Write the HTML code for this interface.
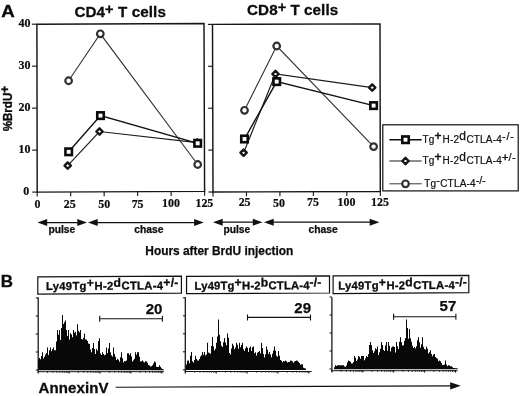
<!DOCTYPE html>
<html><head><meta charset="utf-8"><title>Figure</title>
<style>
html,body{margin:0;padding:0;background:#fff;}
body{width:520px;height:396px;overflow:hidden;font-family:"Liberation Sans", sans-serif;}
svg{display:block;will-change:transform;}
</style></head>
<body>
<svg width="520" height="396" viewBox="0 0 520 396">
<rect width="520" height="396" fill="#fff"/>
<path d="M36.9 24.2L204.0 23.6L204.6 191.4L37.2 192.1Z" fill="none" stroke="#161616" stroke-width="1.45"/>
<path d="M37.20 192.10V196.50" stroke="#1a1a1a" stroke-width="1.15"/>
<path d="M70.68 191.96V196.36" stroke="#1a1a1a" stroke-width="1.15"/>
<path d="M104.16 191.82V196.22" stroke="#1a1a1a" stroke-width="1.15"/>
<path d="M137.64 191.68V196.08" stroke="#1a1a1a" stroke-width="1.15"/>
<path d="M171.12 191.54V195.94" stroke="#1a1a1a" stroke-width="1.15"/>
<path d="M204.60 191.40V195.80" stroke="#1a1a1a" stroke-width="1.15"/>
<path d="M32.20 192.10H37.20" stroke="#1a1a1a" stroke-width="1.15"/>
<path d="M32.12 150.12H37.12" stroke="#1a1a1a" stroke-width="1.15"/>
<path d="M32.05 108.15H37.05" stroke="#1a1a1a" stroke-width="1.15"/>
<path d="M31.98 66.17H36.98" stroke="#1a1a1a" stroke-width="1.15"/>
<path d="M31.90 24.20H36.90" stroke="#1a1a1a" stroke-width="1.15"/>
<path d="M212.5 24.4L380.0 23.9L380.3 191.5L213.0 192.0Z" fill="none" stroke="#161616" stroke-width="1.45"/>
<path d="M213.00 192.00V196.40" stroke="#1a1a1a" stroke-width="1.15"/>
<path d="M246.46 191.90V196.30" stroke="#1a1a1a" stroke-width="1.15"/>
<path d="M279.92 191.80V196.20" stroke="#1a1a1a" stroke-width="1.15"/>
<path d="M313.38 191.70V196.10" stroke="#1a1a1a" stroke-width="1.15"/>
<path d="M346.84 191.60V196.00" stroke="#1a1a1a" stroke-width="1.15"/>
<path d="M380.30 191.50V195.90" stroke="#1a1a1a" stroke-width="1.15"/>
<path d="M208.40 192.00H213.00" stroke="#1a1a1a" stroke-width="1.15"/>
<path d="M208.28 150.10H212.88" stroke="#1a1a1a" stroke-width="1.15"/>
<path d="M208.15 108.20H212.75" stroke="#1a1a1a" stroke-width="1.15"/>
<path d="M208.03 66.30H212.62" stroke="#1a1a1a" stroke-width="1.15"/>
<path d="M207.90 24.40H212.50" stroke="#1a1a1a" stroke-width="1.15"/>
<text x="29.3" y="195.40" font-family='"Liberation Serif", serif' font-weight="bold" font-size="12" text-anchor="end" fill="#0c0c0c" stroke="#0c0c0c" stroke-width="0.2">0</text>
<text x="30.4" y="153.40" font-family='"Liberation Serif", serif' font-weight="bold" font-size="12" text-anchor="end" fill="#0c0c0c" stroke="#0c0c0c" stroke-width="0.2">10</text>
<text x="30.4" y="111.40" font-family='"Liberation Serif", serif' font-weight="bold" font-size="12" text-anchor="end" fill="#0c0c0c" stroke="#0c0c0c" stroke-width="0.2">20</text>
<text x="30.4" y="69.40" font-family='"Liberation Serif", serif' font-weight="bold" font-size="12" text-anchor="end" fill="#0c0c0c" stroke="#0c0c0c" stroke-width="0.2">30</text>
<text x="30.4" y="27.40" font-family='"Liberation Serif", serif' font-weight="bold" font-size="12" text-anchor="end" fill="#0c0c0c" stroke="#0c0c0c" stroke-width="0.2">40</text>
<text x="37.40" y="207.8" font-family='"Liberation Serif", serif' font-weight="bold" font-size="11.9" text-anchor="middle" fill="#0c0c0c" stroke="#0c0c0c" stroke-width="0.2">0</text>
<text x="69.80" y="207.7" font-family='"Liberation Serif", serif' font-weight="bold" font-size="11.9" text-anchor="middle" fill="#0c0c0c" stroke="#0c0c0c" stroke-width="0.2">25</text>
<text x="104.20" y="208.0" font-family='"Liberation Serif", serif' font-weight="bold" font-size="11.9" text-anchor="middle" fill="#0c0c0c" stroke="#0c0c0c" stroke-width="0.2">50</text>
<text x="137.60" y="207.5" font-family='"Liberation Serif", serif' font-weight="bold" font-size="11.9" text-anchor="middle" fill="#0c0c0c" stroke="#0c0c0c" stroke-width="0.2">75</text>
<text x="171.00" y="206.9" font-family='"Liberation Serif", serif' font-weight="bold" font-size="11.9" text-anchor="middle" fill="#0c0c0c" stroke="#0c0c0c" stroke-width="0.2">100</text>
<text x="204.40" y="207.3" font-family='"Liberation Serif", serif' font-weight="bold" font-size="11.9" text-anchor="middle" fill="#0c0c0c" stroke="#0c0c0c" stroke-width="0.2">125</text>
<text x="244.58" y="205.80" font-family='"Liberation Serif", serif' font-weight="bold" font-size="11.9" text-anchor="middle" fill="#0c0c0c" stroke="#0c0c0c" stroke-width="0.2">25</text>
<text x="279.06" y="206.80" font-family='"Liberation Serif", serif' font-weight="bold" font-size="11.9" text-anchor="middle" fill="#0c0c0c" stroke="#0c0c0c" stroke-width="0.2">50</text>
<text x="313.04" y="206.00" font-family='"Liberation Serif", serif' font-weight="bold" font-size="11.9" text-anchor="middle" fill="#0c0c0c" stroke="#0c0c0c" stroke-width="0.2">75</text>
<text x="346.52" y="205.80" font-family='"Liberation Serif", serif' font-weight="bold" font-size="11.9" text-anchor="middle" fill="#0c0c0c" stroke="#0c0c0c" stroke-width="0.2">100</text>
<text x="380.00" y="205.80" font-family='"Liberation Serif", serif' font-weight="bold" font-size="11.9" text-anchor="middle" fill="#0c0c0c" stroke="#0c0c0c" stroke-width="0.2">125</text>
<path d="M68.60 80.75 L100.30 33.80 L197.70 164.50" fill="none" stroke="#333" stroke-width="1.1"/>
<circle cx="68.60" cy="80.75" r="3.3" fill="#fff" stroke="#303030" stroke-width="2.2"/>
<circle cx="100.30" cy="33.80" r="3.3" fill="#fff" stroke="#303030" stroke-width="2.2"/>
<circle cx="197.70" cy="164.50" r="3.3" fill="#fff" stroke="#303030" stroke-width="2.2"/>
<path d="M67.70 165.60 L99.50 131.50 L197.20 142.60" fill="none" stroke="#1c1c1c" stroke-width="1.15"/>
<path d="M64.55 165.60L67.70 162.45L70.85 165.60L67.70 168.75Z" fill="#fff" stroke="#161616" stroke-width="2.4" stroke-linejoin="round"/>
<path d="M96.35 131.50L99.50 128.35L102.65 131.50L99.50 134.65Z" fill="#fff" stroke="#161616" stroke-width="2.4" stroke-linejoin="round"/>
<path d="M194.05 142.60L197.20 139.45L200.35 142.60L197.20 145.75Z" fill="#fff" stroke="#161616" stroke-width="2.4" stroke-linejoin="round"/>
<path d="M68.70 151.80 L100.50 115.60 L197.70 143.30" fill="none" stroke="#111" stroke-width="1.4"/>
<rect x="65.45" y="148.55" width="6.5" height="6.5" fill="#fff" stroke="#0a0a0a" stroke-width="2.6"/>
<rect x="97.25" y="112.35" width="6.5" height="6.5" fill="#fff" stroke="#0a0a0a" stroke-width="2.6"/>
<rect x="194.45" y="140.05" width="6.5" height="6.5" fill="#fff" stroke="#0a0a0a" stroke-width="2.6"/>
<path d="M244.50 110.30 L276.70 46.00 L373.60 146.60" fill="none" stroke="#333" stroke-width="1.1"/>
<circle cx="244.50" cy="110.30" r="3.3" fill="#fff" stroke="#303030" stroke-width="2.2"/>
<circle cx="276.70" cy="46.00" r="3.3" fill="#fff" stroke="#303030" stroke-width="2.2"/>
<circle cx="373.60" cy="146.60" r="3.3" fill="#fff" stroke="#303030" stroke-width="2.2"/>
<path d="M243.60 152.70 L275.50 74.00 L372.20 87.60" fill="none" stroke="#1c1c1c" stroke-width="1.15"/>
<path d="M240.45 152.70L243.60 149.55L246.75 152.70L243.60 155.85Z" fill="#fff" stroke="#161616" stroke-width="2.4" stroke-linejoin="round"/>
<path d="M272.35 74.00L275.50 70.85L278.65 74.00L275.50 77.15Z" fill="#fff" stroke="#161616" stroke-width="2.4" stroke-linejoin="round"/>
<path d="M369.05 87.60L372.20 84.45L375.35 87.60L372.20 90.75Z" fill="#fff" stroke="#161616" stroke-width="2.4" stroke-linejoin="round"/>
<path d="M244.50 139.00 L276.70 81.60 L373.60 105.60" fill="none" stroke="#111" stroke-width="1.4"/>
<rect x="241.25" y="135.75" width="6.5" height="6.5" fill="#fff" stroke="#0a0a0a" stroke-width="2.6"/>
<rect x="273.45" y="78.35" width="6.5" height="6.5" fill="#fff" stroke="#0a0a0a" stroke-width="2.6"/>
<rect x="370.35" y="102.35" width="6.5" height="6.5" fill="#fff" stroke="#0a0a0a" stroke-width="2.6"/>
<text transform="translate(1.3,16.8) scale(1.1,1)" font-family='"Liberation Sans", sans-serif' font-weight="bold" font-size="17" fill="#0c0c0c" stroke="#0c0c0c" stroke-width="0.35">A</text>
<text x="74.4" y="16.7" font-family='"Liberation Sans", sans-serif' font-weight="bold" font-size="15.2" letter-spacing="0.1" fill="#0c0c0c" stroke="#0c0c0c" stroke-width="0.3">CD4<tspan dy="-2.4" font-size="14.5">+</tspan><tspan dy="2.4"> T cells</tspan></text>
<text x="247.1" y="14.8" font-family='"Liberation Sans", sans-serif' font-weight="bold" font-size="15.2" letter-spacing="0.06" fill="#0c0c0c" stroke="#0c0c0c" stroke-width="0.3">CD8<tspan dy="-2.4" font-size="14.5">+</tspan><tspan dy="2.4"> T cells</tspan></text>
<text transform="translate(12.4,131.3) rotate(-90) scale(1,1.13)" font-family='"Liberation Sans", sans-serif' font-weight="bold" font-size="11.6" fill="#0c0c0c" stroke="#0c0c0c" stroke-width="0.3">%BrdU<tspan dy="-2.8" font-size="11.5">+</tspan></text>
<path d="M46.20 222.5H78.30" stroke="#111" stroke-width="1.25"/>
<path d="M37.50 222.5L47.20 219.0L47.20 226.0Z" fill="#111"/>
<path d="M87.00 222.5L77.30 219.0L77.30 226.0Z" fill="#111"/>
<path d="M96.70 222.5H195.10" stroke="#111" stroke-width="1.25"/>
<path d="M88.00 222.5L97.70 219.0L97.70 226.0Z" fill="#111"/>
<path d="M203.80 222.5L194.10 219.0L194.10 226.0Z" fill="#111"/>
<path d="M221.70 222.2H253.80" stroke="#111" stroke-width="1.25"/>
<path d="M213.00 222.2L222.70 218.7L222.70 225.7Z" fill="#111"/>
<path d="M262.50 222.2L252.80 218.7L252.80 225.7Z" fill="#111"/>
<path d="M272.70 222.2H370.70" stroke="#111" stroke-width="1.25"/>
<path d="M264.00 222.2L273.70 218.7L273.70 225.7Z" fill="#111"/>
<path d="M379.40 222.2L369.70 218.7L369.70 225.7Z" fill="#111"/>
<text x="48.4" y="233.1" font-family='"Liberation Sans", sans-serif' font-weight="bold" font-size="10.3" text-anchor="start" fill="#0c0c0c" stroke="#0c0c0c" stroke-width="0.25">pulse</text>
<text x="134.2" y="233.1" font-family='"Liberation Sans", sans-serif' font-weight="bold" font-size="10.3" text-anchor="start" fill="#0c0c0c" stroke="#0c0c0c" stroke-width="0.25">chase</text>
<text x="223.4" y="232.9" font-family='"Liberation Sans", sans-serif' font-weight="bold" font-size="10.3" text-anchor="start" fill="#0c0c0c" stroke="#0c0c0c" stroke-width="0.25">pulse</text>
<text x="308.6" y="232.9" font-family='"Liberation Sans", sans-serif' font-weight="bold" font-size="10.3" text-anchor="start" fill="#0c0c0c" stroke="#0c0c0c" stroke-width="0.25">chase</text>
<text x="145.3" y="254.7" font-family='"Liberation Sans", sans-serif' font-weight="bold" font-size="11.9" text-anchor="start" fill="#0c0c0c" stroke="#0c0c0c" stroke-width="0.25">Hours after BrdU injection</text>
<rect x="382.8" y="124.8" width="135.4" height="66.1" fill="#fff" stroke="#111" stroke-width="1.2"/>
<path d="M389.4 139.7H421.7" stroke="#111" stroke-width="1.4"/>
<rect x="402.25" y="136.45" width="6.5" height="6.5" fill="#fff" stroke="#0a0a0a" stroke-width="2.6"/>
<text x="422.5" y="143.0" font-family='"Liberation Sans", sans-serif' font-size="10" letter-spacing="0.16" fill="#111" stroke="#111" stroke-width="0.22">Tg<tspan dy="-3.4" font-size="12" stroke-width="0.5" letter-spacing="0.9">+</tspan><tspan dy="3.4" font-size="0.1"> </tspan>H-2<tspan dy="-3.0" font-size="12" stroke-width="0.25" letter-spacing="0.4">d</tspan><tspan dy="3.0" font-size="0.1"> </tspan>CTLA-4<tspan dy="-3.4" font-size="10.8" stroke-width="0.22" letter-spacing="0.9">-/-</tspan><tspan dy="3.4" font-size="0.1"> </tspan></text>
<path d="M389.4 161.0H421.7" stroke="#1c1c1c" stroke-width="1.15"/>
<path d="M402.35 161.00L405.50 157.85L408.65 161.00L405.50 164.15Z" fill="#fff" stroke="#161616" stroke-width="2.4" stroke-linejoin="round"/>
<text x="422.5" y="164.4" font-family='"Liberation Sans", sans-serif' font-size="10" letter-spacing="0.16" fill="#111" stroke="#111" stroke-width="0.22">Tg<tspan dy="-3.4" font-size="12" stroke-width="0.5" letter-spacing="0.9">+</tspan><tspan dy="3.4" font-size="0.1"> </tspan>H-2<tspan dy="-3.0" font-size="12" stroke-width="0.25" letter-spacing="0.4">d</tspan><tspan dy="3.0" font-size="0.1"> </tspan>CTLA-4<tspan dy="-3.4" font-size="11" stroke-width="0.4" letter-spacing="0">+</tspan><tspan dy="3.4" font-size="0.1"> </tspan><tspan dy="-3.4" font-size="10.8" stroke-width="0.22" letter-spacing="0.5">/-</tspan><tspan dy="3.4" font-size="0.1"> </tspan></text>
<path d="M389.4 183.8H421.7" stroke="#3a3a3a" stroke-width="1.0"/>
<circle cx="405.50" cy="183.80" r="3.3" fill="#fff" stroke="#303030" stroke-width="2.2"/>
<text x="424.2" y="187.0" font-family='"Liberation Sans", sans-serif' font-size="10" letter-spacing="0.18" fill="#111" stroke="#111" stroke-width="0.22">Tg<tspan dy="-3.4" font-size="10.8" font-weight="normal">-</tspan><tspan dy="3.4" font-size="0.1"> </tspan>CTLA-4<tspan dy="-3.4" font-size="10.8" stroke-width="0.22" letter-spacing="-0.2">-/-</tspan><tspan dy="3.4" font-size="0.1"> </tspan></text>
<text transform="translate(0.8,286.9) scale(1.06,1)" font-family='"Liberation Sans", sans-serif' font-weight="bold" font-size="16" fill="#0c0c0c" stroke="#0c0c0c" stroke-width="0.3">B</text>
<path d="M37.8 276.9L181.4 276.2L181.4 293.2L37.8 294.2Z" fill="#fff" stroke="#111" stroke-width="1.2"/>
<path d="M186.55 276.4L329.5 275.9L329.5 293.0L186.55 293.6Z" fill="#fff" stroke="#111" stroke-width="1.2"/>
<path d="M333.1 275.8L468.8 275.4L468.8 292.7L333.1 293.6Z" fill="#fff" stroke="#111" stroke-width="1.2"/>
<text transform="translate(46.0,290.0) rotate(-0.3)" font-family='"Liberation Sans", sans-serif' font-weight="bold" font-size="11.3" letter-spacing="0.27" fill="#0c0c0c" stroke="#0c0c0c" stroke-width="0.3">Ly49Tg<tspan dy="-2.9" font-size="12.2" font-weight="bold">+</tspan><tspan dy="2.9" font-size="0.1"> </tspan>H-2<tspan dy="-2.9" font-size="12.2" font-weight="bold">d</tspan><tspan dy="2.9" font-size="0.1"> </tspan>CTLA-4<tspan dy="-2.9" font-size="12.2" font-weight="bold">+/-</tspan><tspan dy="2.9" font-size="0.1"> </tspan></text>
<text transform="translate(194.6,289.7) rotate(-0.3)" font-family='"Liberation Sans", sans-serif' font-weight="bold" font-size="11.3" letter-spacing="0.15" fill="#0c0c0c" stroke="#0c0c0c" stroke-width="0.3">Ly49Tg<tspan dy="-2.9" font-size="12.2" font-weight="bold">+</tspan><tspan dy="2.9" font-size="0.1"> </tspan>H-2<tspan dy="-2.9" font-size="12.2" font-weight="bold">b</tspan><tspan dy="2.9" font-size="0.1"> </tspan>CTLA-4<tspan dy="-2.9" font-size="12.2" font-weight="bold">-/-</tspan><tspan dy="2.9" font-size="0.1"> </tspan></text>
<text transform="translate(338.2,289.5) rotate(-0.3)" font-family='"Liberation Sans", sans-serif' font-weight="bold" font-size="11.3" letter-spacing="0.24" fill="#0c0c0c" stroke="#0c0c0c" stroke-width="0.3">Ly49Tg<tspan dy="-2.9" font-size="12.2" font-weight="bold">+</tspan><tspan dy="2.9" font-size="0.1"> </tspan>H-2<tspan dy="-2.9" font-size="12.2" font-weight="bold">d</tspan><tspan dy="2.9" font-size="0.1"> </tspan>CTLA-4<tspan dy="-2.9" font-size="12.2" font-weight="bold">-/-</tspan><tspan dy="2.9" font-size="0.1"> </tspan></text>
<path d="M38.2 297.2V372.4" fill="none" stroke="#111" stroke-width="1.25"/>
<path d="M38.2 371.7H164" fill="none" stroke="#111" stroke-width="1.0"/>
<path d="M35.800000000000004 370.00H38.2" stroke="#111" stroke-width="1"/>
<path d="M35.800000000000004 352.00H38.2" stroke="#111" stroke-width="1"/>
<path d="M35.800000000000004 334.00H38.2" stroke="#111" stroke-width="1"/>
<path d="M35.800000000000004 316.00H38.2" stroke="#111" stroke-width="1"/>
<path d="M35.800000000000004 298.00H38.2" stroke="#111" stroke-width="1"/>
<path d="M38.20 371.2V373.6" stroke="#111" stroke-width="1.1"/>
<path d="M69.10 371.2V373.6" stroke="#111" stroke-width="1.1"/>
<path d="M100.00 371.2V373.6" stroke="#111" stroke-width="1.1"/>
<path d="M130.90 371.2V373.6" stroke="#111" stroke-width="1.1"/>
<path d="M161.80 371.2V373.6" stroke="#111" stroke-width="1.1"/>
<path d="M47.50 371.2V372.9" stroke="#1a1a1a" stroke-width="0.85"/>
<path d="M52.94 371.2V372.9" stroke="#1a1a1a" stroke-width="0.85"/>
<path d="M56.80 371.2V372.9" stroke="#1a1a1a" stroke-width="0.85"/>
<path d="M59.80 371.2V372.9" stroke="#1a1a1a" stroke-width="0.85"/>
<path d="M62.24 371.2V372.9" stroke="#1a1a1a" stroke-width="0.85"/>
<path d="M64.31 371.2V372.9" stroke="#1a1a1a" stroke-width="0.85"/>
<path d="M66.11 371.2V372.9" stroke="#1a1a1a" stroke-width="0.85"/>
<path d="M67.69 371.2V372.9" stroke="#1a1a1a" stroke-width="0.85"/>
<path d="M78.40 371.2V372.9" stroke="#1a1a1a" stroke-width="0.85"/>
<path d="M83.84 371.2V372.9" stroke="#1a1a1a" stroke-width="0.85"/>
<path d="M87.70 371.2V372.9" stroke="#1a1a1a" stroke-width="0.85"/>
<path d="M90.70 371.2V372.9" stroke="#1a1a1a" stroke-width="0.85"/>
<path d="M93.14 371.2V372.9" stroke="#1a1a1a" stroke-width="0.85"/>
<path d="M95.21 371.2V372.9" stroke="#1a1a1a" stroke-width="0.85"/>
<path d="M97.01 371.2V372.9" stroke="#1a1a1a" stroke-width="0.85"/>
<path d="M98.59 371.2V372.9" stroke="#1a1a1a" stroke-width="0.85"/>
<path d="M109.30 371.2V372.9" stroke="#1a1a1a" stroke-width="0.85"/>
<path d="M114.74 371.2V372.9" stroke="#1a1a1a" stroke-width="0.85"/>
<path d="M118.60 371.2V372.9" stroke="#1a1a1a" stroke-width="0.85"/>
<path d="M121.60 371.2V372.9" stroke="#1a1a1a" stroke-width="0.85"/>
<path d="M124.04 371.2V372.9" stroke="#1a1a1a" stroke-width="0.85"/>
<path d="M126.11 371.2V372.9" stroke="#1a1a1a" stroke-width="0.85"/>
<path d="M127.91 371.2V372.9" stroke="#1a1a1a" stroke-width="0.85"/>
<path d="M129.49 371.2V372.9" stroke="#1a1a1a" stroke-width="0.85"/>
<path d="M140.20 371.2V372.9" stroke="#1a1a1a" stroke-width="0.85"/>
<path d="M145.64 371.2V372.9" stroke="#1a1a1a" stroke-width="0.85"/>
<path d="M149.50 371.2V372.9" stroke="#1a1a1a" stroke-width="0.85"/>
<path d="M152.50 371.2V372.9" stroke="#1a1a1a" stroke-width="0.85"/>
<path d="M154.94 371.2V372.9" stroke="#1a1a1a" stroke-width="0.85"/>
<path d="M157.01 371.2V372.9" stroke="#1a1a1a" stroke-width="0.85"/>
<path d="M158.81 371.2V372.9" stroke="#1a1a1a" stroke-width="0.85"/>
<path d="M160.39 371.2V372.9" stroke="#1a1a1a" stroke-width="0.85"/>
<path d="M38.0 370.2V359.47h1V370.2ZM39.0 370.2V358.00h1V370.2ZM40.0 370.2V359.16h1V370.2ZM41.0 370.2V355.95h1V370.2ZM42.0 370.2V352.30h1V370.2ZM43.0 370.2V358.51h1V370.2ZM44.0 370.2V356.74h1V370.2ZM45.0 370.2V354.48h1V370.2ZM46.0 370.2V352.91h1V370.2ZM47.0 370.2V347.60h1V370.2ZM48.0 370.2V354.97h1V370.2ZM49.0 370.2V350.25h1V370.2ZM50.0 370.2V347.60h1V370.2ZM51.0 370.2V351.17h1V370.2ZM52.0 370.2V349.33h1V370.2ZM53.0 370.2V347.60h1V370.2ZM54.0 370.2V350.16h1V370.2ZM55.0 370.2V350.36h1V370.2ZM56.0 370.2V341.55h1V370.2ZM57.0 370.2V330.00h1V370.2ZM58.0 370.2V334.84h1V370.2ZM59.0 370.2V330.00h1V370.2ZM60.0 370.2V339.88h1V370.2ZM61.0 370.2V327.94h1V370.2ZM62.0 370.2V315.00h1V370.2ZM63.0 370.2V324.00h1V370.2ZM64.0 370.2V322.23h1V370.2ZM65.0 370.2V320.50h1V370.2ZM66.0 370.2V329.88h1V370.2ZM67.0 370.2V336.11h1V370.2ZM68.0 370.2V330.00h1V370.2ZM69.0 370.2V339.59h1V370.2ZM70.0 370.2V333.19h1V370.2ZM71.0 370.2V334.49h1V370.2ZM72.0 370.2V337.21h1V370.2ZM73.0 370.2V330.00h1V370.2ZM74.0 370.2V332.80h1V370.2ZM75.0 370.2V331.68h1V370.2ZM76.0 370.2V335.42h1V370.2ZM77.0 370.2V324.30h1V370.2ZM78.0 370.2V330.72h1V370.2ZM79.0 370.2V332.27h1V370.2ZM80.0 370.2V330.00h1V370.2ZM81.0 370.2V339.10h1V370.2ZM82.0 370.2V339.50h1V370.2ZM83.0 370.2V337.78h1V370.2ZM84.0 370.2V333.60h1V370.2ZM85.0 370.2V339.60h1V370.2ZM86.0 370.2V339.60h1V370.2ZM87.0 370.2V340.89h1V370.2ZM88.0 370.2V343.42h1V370.2ZM89.0 370.2V344.05h1V370.2ZM90.0 370.2V349.38h1V370.2ZM91.0 370.2V352.18h1V370.2ZM92.0 370.2V347.93h1V370.2ZM93.0 370.2V343.00h1V370.2ZM94.0 370.2V348.92h1V370.2ZM95.0 370.2V353.97h1V370.2ZM96.0 370.2V349.09h1V370.2ZM97.0 370.2V350.56h1V370.2ZM98.0 370.2V340.98h1V370.2ZM99.0 370.2V338.30h1V370.2ZM100.0 370.2V353.42h1V370.2ZM101.0 370.2V355.05h1V370.2ZM102.0 370.2V352.30h1V370.2ZM103.0 370.2V353.94h1V370.2ZM104.0 370.2V355.14h1V370.2ZM105.0 370.2V354.87h1V370.2ZM106.0 370.2V347.60h1V370.2ZM107.0 370.2V352.95h1V370.2ZM108.0 370.2V348.60h1V370.2ZM109.0 370.2V343.00h1V370.2ZM110.0 370.2V352.22h1V370.2ZM111.0 370.2V355.27h1V370.2ZM112.0 370.2V356.48h1V370.2ZM113.0 370.2V347.60h1V370.2ZM114.0 370.2V353.88h1V370.2ZM115.0 370.2V356.74h1V370.2ZM116.0 370.2V360.07h1V370.2ZM117.0 370.2V358.77h1V370.2ZM118.0 370.2V359.74h1V370.2ZM119.0 370.2V361.70h1V370.2ZM120.0 370.2V357.20h1V370.2ZM121.0 370.2V352.30h1V370.2ZM122.0 370.2V358.32h1V370.2ZM123.0 370.2V362.41h1V370.2ZM124.0 370.2V361.12h1V370.2ZM125.0 370.2V361.31h1V370.2ZM126.0 370.2V360.41h1V370.2ZM127.0 370.2V353.20h1V370.2ZM128.0 370.2V353.20h1V370.2ZM129.0 370.2V354.94h1V370.2ZM130.0 370.2V353.20h1V370.2ZM131.0 370.2V356.53h1V370.2ZM132.0 370.2V361.45h1V370.2ZM133.0 370.2V360.17h1V370.2ZM134.0 370.2V358.77h1V370.2ZM135.0 370.2V352.30h1V370.2ZM136.0 370.2V354.77h1V370.2ZM137.0 370.2V352.30h1V370.2ZM138.0 370.2V352.30h1V370.2ZM139.0 370.2V356.85h1V370.2ZM140.0 370.2V361.48h1V370.2ZM141.0 370.2V361.21h1V370.2ZM142.0 370.2V360.59h1V370.2ZM143.0 370.2V361.83h1V370.2ZM144.0 370.2V362.62h1V370.2ZM145.0 370.2V361.29h1V370.2ZM146.0 370.2V361.51h1V370.2ZM147.0 370.2V362.72h1V370.2ZM148.0 370.2V365.11h1V370.2ZM149.0 370.2V365.50h1V370.2ZM150.0 370.2V366.50h1V370.2ZM151.0 370.2V366.28h1V370.2ZM152.0 370.2V365.14h1V370.2ZM153.0 370.2V363.45h1V370.2ZM154.0 370.2V361.60h1V370.2ZM155.0 370.2V362.32h1V370.2ZM156.0 370.2V366.64h1V370.2ZM157.0 370.2V366.92h1V370.2ZM158.0 370.2V366.90h1V370.2ZM159.0 370.2V365.30h1V370.2ZM160.0 370.2V366.63h1V370.2ZM161.0 370.2V368.29h1V370.2ZM162.0 370.2V368.97h1V370.2ZM163.0 370.2V369.45h1V370.2Z" fill="#080808"/>
<path d="M99.7 318.7H162.4M99.7 315.7V321.7M162.4 315.7V321.7" stroke="#111" stroke-width="1.1" fill="none"/>
<text x="162.4" y="313.7" font-family='"Liberation Sans", sans-serif' font-weight="bold" font-size="15" text-anchor="end" fill="#0c0c0c" stroke="#0c0c0c" stroke-width="0.25">20</text>
<path d="M185.3 297.2V372.2" fill="none" stroke="#111" stroke-width="1.25"/>
<path d="M185.3 371.5H311.5" fill="none" stroke="#111" stroke-width="1.0"/>
<path d="M182.9 369.80H185.3" stroke="#111" stroke-width="1"/>
<path d="M182.9 351.80H185.3" stroke="#111" stroke-width="1"/>
<path d="M182.9 333.80H185.3" stroke="#111" stroke-width="1"/>
<path d="M182.9 315.80H185.3" stroke="#111" stroke-width="1"/>
<path d="M182.9 297.80H185.3" stroke="#111" stroke-width="1"/>
<path d="M185.30 371.0V373.40000000000003" stroke="#111" stroke-width="1.1"/>
<path d="M216.20 371.0V373.40000000000003" stroke="#111" stroke-width="1.1"/>
<path d="M247.10 371.0V373.40000000000003" stroke="#111" stroke-width="1.1"/>
<path d="M278.00 371.0V373.40000000000003" stroke="#111" stroke-width="1.1"/>
<path d="M308.90 371.0V373.40000000000003" stroke="#111" stroke-width="1.1"/>
<path d="M194.60 371.0V372.7" stroke="#1a1a1a" stroke-width="0.85"/>
<path d="M200.04 371.0V372.7" stroke="#1a1a1a" stroke-width="0.85"/>
<path d="M203.90 371.0V372.7" stroke="#1a1a1a" stroke-width="0.85"/>
<path d="M206.90 371.0V372.7" stroke="#1a1a1a" stroke-width="0.85"/>
<path d="M209.34 371.0V372.7" stroke="#1a1a1a" stroke-width="0.85"/>
<path d="M211.41 371.0V372.7" stroke="#1a1a1a" stroke-width="0.85"/>
<path d="M213.21 371.0V372.7" stroke="#1a1a1a" stroke-width="0.85"/>
<path d="M214.79 371.0V372.7" stroke="#1a1a1a" stroke-width="0.85"/>
<path d="M225.50 371.0V372.7" stroke="#1a1a1a" stroke-width="0.85"/>
<path d="M230.94 371.0V372.7" stroke="#1a1a1a" stroke-width="0.85"/>
<path d="M234.80 371.0V372.7" stroke="#1a1a1a" stroke-width="0.85"/>
<path d="M237.80 371.0V372.7" stroke="#1a1a1a" stroke-width="0.85"/>
<path d="M240.24 371.0V372.7" stroke="#1a1a1a" stroke-width="0.85"/>
<path d="M242.31 371.0V372.7" stroke="#1a1a1a" stroke-width="0.85"/>
<path d="M244.11 371.0V372.7" stroke="#1a1a1a" stroke-width="0.85"/>
<path d="M245.69 371.0V372.7" stroke="#1a1a1a" stroke-width="0.85"/>
<path d="M256.40 371.0V372.7" stroke="#1a1a1a" stroke-width="0.85"/>
<path d="M261.84 371.0V372.7" stroke="#1a1a1a" stroke-width="0.85"/>
<path d="M265.70 371.0V372.7" stroke="#1a1a1a" stroke-width="0.85"/>
<path d="M268.70 371.0V372.7" stroke="#1a1a1a" stroke-width="0.85"/>
<path d="M271.14 371.0V372.7" stroke="#1a1a1a" stroke-width="0.85"/>
<path d="M273.21 371.0V372.7" stroke="#1a1a1a" stroke-width="0.85"/>
<path d="M275.01 371.0V372.7" stroke="#1a1a1a" stroke-width="0.85"/>
<path d="M276.59 371.0V372.7" stroke="#1a1a1a" stroke-width="0.85"/>
<path d="M287.30 371.0V372.7" stroke="#1a1a1a" stroke-width="0.85"/>
<path d="M292.74 371.0V372.7" stroke="#1a1a1a" stroke-width="0.85"/>
<path d="M296.60 371.0V372.7" stroke="#1a1a1a" stroke-width="0.85"/>
<path d="M299.60 371.0V372.7" stroke="#1a1a1a" stroke-width="0.85"/>
<path d="M302.04 371.0V372.7" stroke="#1a1a1a" stroke-width="0.85"/>
<path d="M304.11 371.0V372.7" stroke="#1a1a1a" stroke-width="0.85"/>
<path d="M305.91 371.0V372.7" stroke="#1a1a1a" stroke-width="0.85"/>
<path d="M307.49 371.0V372.7" stroke="#1a1a1a" stroke-width="0.85"/>
<path d="M186.0 370.0V364.39h1V370.0ZM187.0 370.0V360.85h1V370.0ZM188.0 370.0V360.50h1V370.0ZM189.0 370.0V363.26h1V370.0ZM190.0 370.0V355.83h1V370.0ZM191.0 370.0V352.10h1V370.0ZM192.0 370.0V361.31h1V370.0ZM193.0 370.0V362.51h1V370.0ZM194.0 370.0V360.04h1V370.0ZM195.0 370.0V355.80h1V370.0ZM196.0 370.0V358.91h1V370.0ZM197.0 370.0V360.40h1V370.0ZM198.0 370.0V360.40h1V370.0ZM199.0 370.0V359.03h1V370.0ZM200.0 370.0V356.46h1V370.0ZM201.0 370.0V355.22h1V370.0ZM202.0 370.0V352.10h1V370.0ZM203.0 370.0V354.87h1V370.0ZM204.0 370.0V352.10h1V370.0ZM205.0 370.0V355.54h1V370.0ZM206.0 370.0V354.50h1V370.0ZM207.0 370.0V342.80h1V370.0ZM208.0 370.0V352.39h1V370.0ZM209.0 370.0V353.08h1V370.0ZM210.0 370.0V353.64h1V370.0ZM211.0 370.0V346.06h1V370.0ZM212.0 370.0V337.10h1V370.0ZM213.0 370.0V346.56h1V370.0ZM214.0 370.0V350.61h1V370.0ZM215.0 370.0V348.75h1V370.0ZM216.0 370.0V342.80h1V370.0ZM217.0 370.0V336.41h1V370.0ZM218.0 370.0V319.40h1V370.0ZM219.0 370.0V334.87h1V370.0ZM220.0 370.0V341.27h1V370.0ZM221.0 370.0V345.76h1V370.0ZM222.0 370.0V347.01h1V370.0ZM223.0 370.0V342.21h1V370.0ZM224.0 370.0V338.10h1V370.0ZM225.0 370.0V342.60h1V370.0ZM226.0 370.0V345.31h1V370.0ZM227.0 370.0V333.40h1V370.0ZM228.0 370.0V337.71h1V370.0ZM229.0 370.0V353.06h1V370.0ZM230.0 370.0V354.40h1V370.0ZM231.0 370.0V348.45h1V370.0ZM232.0 370.0V343.70h1V370.0ZM233.0 370.0V345.85h1V370.0ZM234.0 370.0V349.17h1V370.0ZM235.0 370.0V347.46h1V370.0ZM236.0 370.0V342.80h1V370.0ZM237.0 370.0V344.75h1V370.0ZM238.0 370.0V348.83h1V370.0ZM239.0 370.0V342.80h1V370.0ZM240.0 370.0V347.22h1V370.0ZM241.0 370.0V345.08h1V370.0ZM242.0 370.0V342.80h1V370.0ZM243.0 370.0V349.37h1V370.0ZM244.0 370.0V351.06h1V370.0ZM245.0 370.0V348.30h1V370.0ZM246.0 370.0V346.50h1V370.0ZM247.0 370.0V347.78h1V370.0ZM248.0 370.0V352.12h1V370.0ZM249.0 370.0V347.79h1V370.0ZM250.0 370.0V346.50h1V370.0ZM251.0 370.0V350.98h1V370.0ZM252.0 370.0V347.25h1V370.0ZM253.0 370.0V346.50h1V370.0ZM254.0 370.0V353.37h1V370.0ZM255.0 370.0V352.18h1V370.0ZM256.0 370.0V355.55h1V370.0ZM257.0 370.0V352.87h1V370.0ZM258.0 370.0V351.98h1V370.0ZM259.0 370.0V351.10h1V370.0ZM260.0 370.0V353.38h1V370.0ZM261.0 370.0V342.80h1V370.0ZM262.0 370.0V347.92h1V370.0ZM263.0 370.0V354.04h1V370.0ZM264.0 370.0V357.44h1V370.0ZM265.0 370.0V354.19h1V370.0ZM266.0 370.0V346.50h1V370.0ZM267.0 370.0V349.82h1V370.0ZM268.0 370.0V354.09h1V370.0ZM269.0 370.0V352.10h1V370.0ZM270.0 370.0V354.38h1V370.0ZM271.0 370.0V357.31h1V370.0ZM272.0 370.0V353.81h1V370.0ZM273.0 370.0V350.38h1V370.0ZM274.0 370.0V346.50h1V370.0ZM275.0 370.0V350.84h1V370.0ZM276.0 370.0V355.80h1V370.0ZM277.0 370.0V356.75h1V370.0ZM278.0 370.0V351.10h1V370.0ZM279.0 370.0V355.68h1V370.0ZM280.0 370.0V359.90h1V370.0ZM281.0 370.0V360.69h1V370.0ZM282.0 370.0V362.27h1V370.0ZM283.0 370.0V361.05h1V370.0ZM284.0 370.0V361.47h1V370.0ZM285.0 370.0V360.50h1V370.0ZM286.0 370.0V361.34h1V370.0ZM287.0 370.0V362.62h1V370.0ZM288.0 370.0V361.98h1V370.0ZM289.0 370.0V362.12h1V370.0ZM290.0 370.0V360.50h1V370.0ZM291.0 370.0V360.69h1V370.0ZM292.0 370.0V361.59h1V370.0ZM293.0 370.0V362.78h1V370.0ZM294.0 370.0V361.46h1V370.0ZM295.0 370.0V361.08h1V370.0ZM296.0 370.0V360.50h1V370.0ZM297.0 370.0V360.85h1V370.0ZM298.0 370.0V361.96h1V370.0ZM299.0 370.0V362.92h1V370.0ZM300.0 370.0V364.64h1V370.0ZM301.0 370.0V364.26h1V370.0ZM302.0 370.0V364.20h1V370.0ZM303.0 370.0V367.87h1V370.0ZM304.0 370.0V368.31h1V370.0ZM305.0 370.0V368.55h1V370.0Z" fill="#080808"/>
<path d="M247.5 317.4H310.5M247.5 314.4V320.4M310.5 314.4V320.4" stroke="#111" stroke-width="1.1" fill="none"/>
<text x="311.0" y="313.0" font-family='"Liberation Sans", sans-serif' font-weight="bold" font-size="15" text-anchor="end" fill="#0c0c0c" stroke="#0c0c0c" stroke-width="0.25">29</text>
<path d="M331.9 297.2V371.4" fill="none" stroke="#111" stroke-width="1.25"/>
<path d="M331.9 370.7H457.5" fill="none" stroke="#111" stroke-width="1.0"/>
<path d="M329.5 369.00H331.9" stroke="#111" stroke-width="1"/>
<path d="M329.5 351.00H331.9" stroke="#111" stroke-width="1"/>
<path d="M329.5 333.00H331.9" stroke="#111" stroke-width="1"/>
<path d="M329.5 315.00H331.9" stroke="#111" stroke-width="1"/>
<path d="M329.5 297.00H331.9" stroke="#111" stroke-width="1"/>
<path d="M331.90 370.2V372.6" stroke="#111" stroke-width="1.1"/>
<path d="M362.80 370.2V372.6" stroke="#111" stroke-width="1.1"/>
<path d="M393.70 370.2V372.6" stroke="#111" stroke-width="1.1"/>
<path d="M424.60 370.2V372.6" stroke="#111" stroke-width="1.1"/>
<path d="M455.50 370.2V372.6" stroke="#111" stroke-width="1.1"/>
<path d="M341.20 370.2V371.9" stroke="#1a1a1a" stroke-width="0.85"/>
<path d="M346.64 370.2V371.9" stroke="#1a1a1a" stroke-width="0.85"/>
<path d="M350.50 370.2V371.9" stroke="#1a1a1a" stroke-width="0.85"/>
<path d="M353.50 370.2V371.9" stroke="#1a1a1a" stroke-width="0.85"/>
<path d="M355.94 370.2V371.9" stroke="#1a1a1a" stroke-width="0.85"/>
<path d="M358.01 370.2V371.9" stroke="#1a1a1a" stroke-width="0.85"/>
<path d="M359.81 370.2V371.9" stroke="#1a1a1a" stroke-width="0.85"/>
<path d="M361.39 370.2V371.9" stroke="#1a1a1a" stroke-width="0.85"/>
<path d="M372.10 370.2V371.9" stroke="#1a1a1a" stroke-width="0.85"/>
<path d="M377.54 370.2V371.9" stroke="#1a1a1a" stroke-width="0.85"/>
<path d="M381.40 370.2V371.9" stroke="#1a1a1a" stroke-width="0.85"/>
<path d="M384.40 370.2V371.9" stroke="#1a1a1a" stroke-width="0.85"/>
<path d="M386.84 370.2V371.9" stroke="#1a1a1a" stroke-width="0.85"/>
<path d="M388.91 370.2V371.9" stroke="#1a1a1a" stroke-width="0.85"/>
<path d="M390.71 370.2V371.9" stroke="#1a1a1a" stroke-width="0.85"/>
<path d="M392.29 370.2V371.9" stroke="#1a1a1a" stroke-width="0.85"/>
<path d="M403.00 370.2V371.9" stroke="#1a1a1a" stroke-width="0.85"/>
<path d="M408.44 370.2V371.9" stroke="#1a1a1a" stroke-width="0.85"/>
<path d="M412.30 370.2V371.9" stroke="#1a1a1a" stroke-width="0.85"/>
<path d="M415.30 370.2V371.9" stroke="#1a1a1a" stroke-width="0.85"/>
<path d="M417.74 370.2V371.9" stroke="#1a1a1a" stroke-width="0.85"/>
<path d="M419.81 370.2V371.9" stroke="#1a1a1a" stroke-width="0.85"/>
<path d="M421.61 370.2V371.9" stroke="#1a1a1a" stroke-width="0.85"/>
<path d="M423.19 370.2V371.9" stroke="#1a1a1a" stroke-width="0.85"/>
<path d="M433.90 370.2V371.9" stroke="#1a1a1a" stroke-width="0.85"/>
<path d="M439.34 370.2V371.9" stroke="#1a1a1a" stroke-width="0.85"/>
<path d="M443.20 370.2V371.9" stroke="#1a1a1a" stroke-width="0.85"/>
<path d="M446.20 370.2V371.9" stroke="#1a1a1a" stroke-width="0.85"/>
<path d="M448.64 370.2V371.9" stroke="#1a1a1a" stroke-width="0.85"/>
<path d="M450.71 370.2V371.9" stroke="#1a1a1a" stroke-width="0.85"/>
<path d="M452.51 370.2V371.9" stroke="#1a1a1a" stroke-width="0.85"/>
<path d="M454.09 370.2V371.9" stroke="#1a1a1a" stroke-width="0.85"/>
<path d="M334.0 369.2V367.17h1V369.2ZM335.0 369.2V365.30h1V369.2ZM336.0 369.2V365.94h1V369.2ZM337.0 369.2V365.30h1V369.2ZM338.0 369.2V365.30h1V369.2ZM339.0 369.2V365.30h1V369.2ZM340.0 369.2V365.30h1V369.2ZM341.0 369.2V365.30h1V369.2ZM342.0 369.2V365.30h1V369.2ZM343.0 369.2V365.30h1V369.2ZM344.0 369.2V366.55h1V369.2ZM345.0 369.2V366.74h1V369.2ZM346.0 369.2V365.61h1V369.2ZM347.0 369.2V362.17h1V369.2ZM348.0 369.2V360.60h1V369.2ZM349.0 369.2V360.88h1V369.2ZM350.0 369.2V361.83h1V369.2ZM351.0 369.2V363.55h1V369.2ZM352.0 369.2V363.47h1V369.2ZM353.0 369.2V362.04h1V369.2ZM354.0 369.2V356.00h1V369.2ZM355.0 369.2V357.69h1V369.2ZM356.0 369.2V360.90h1V369.2ZM357.0 369.2V359.48h1V369.2ZM358.0 369.2V356.00h1V369.2ZM359.0 369.2V356.85h1V369.2ZM360.0 369.2V358.71h1V369.2ZM361.0 369.2V356.00h1V369.2ZM362.0 369.2V356.00h1V369.2ZM363.0 369.2V356.00h1V369.2ZM364.0 369.2V360.35h1V369.2ZM365.0 369.2V358.28h1V369.2ZM366.0 369.2V356.00h1V369.2ZM367.0 369.2V356.90h1V369.2ZM368.0 369.2V354.09h1V369.2ZM369.0 369.2V345.07h1V369.2ZM370.0 369.2V342.00h1V369.2ZM371.0 369.2V345.32h1V369.2ZM372.0 369.2V350.32h1V369.2ZM373.0 369.2V353.01h1V369.2ZM374.0 369.2V351.26h1V369.2ZM375.0 369.2V348.14h1V369.2ZM376.0 369.2V349.14h1V369.2ZM377.0 369.2V346.60h1V369.2ZM378.0 369.2V355.07h1V369.2ZM379.0 369.2V352.27h1V369.2ZM380.0 369.2V348.76h1V369.2ZM381.0 369.2V342.00h1V369.2ZM382.0 369.2V345.10h1V369.2ZM383.0 369.2V350.06h1V369.2ZM384.0 369.2V351.06h1V369.2ZM385.0 369.2V345.50h1V369.2ZM386.0 369.2V342.00h1V369.2ZM387.0 369.2V350.64h1V369.2ZM388.0 369.2V342.00h1V369.2ZM389.0 369.2V345.69h1V369.2ZM390.0 369.2V351.56h1V369.2ZM391.0 369.2V347.57h1V369.2ZM392.0 369.2V346.60h1V369.2ZM393.0 369.2V346.60h1V369.2ZM394.0 369.2V347.09h1V369.2ZM395.0 369.2V352.51h1V369.2ZM396.0 369.2V342.00h1V369.2ZM397.0 369.2V346.16h1V369.2ZM398.0 369.2V348.99h1V369.2ZM399.0 369.2V341.71h1V369.2ZM400.0 369.2V337.30h1V369.2ZM401.0 369.2V342.31h1V369.2ZM402.0 369.2V345.59h1V369.2ZM403.0 369.2V345.16h1V369.2ZM404.0 369.2V340.78h1V369.2ZM405.0 369.2V338.03h1V369.2ZM406.0 369.2V319.50h1V369.2ZM407.0 369.2V327.90h1V369.2ZM408.0 369.2V338.75h1V369.2ZM409.0 369.2V329.00h1V369.2ZM410.0 369.2V338.31h1V369.2ZM411.0 369.2V341.85h1V369.2ZM412.0 369.2V345.70h1V369.2ZM413.0 369.2V348.09h1V369.2ZM414.0 369.2V347.02h1V369.2ZM415.0 369.2V348.57h1V369.2ZM416.0 369.2V346.32h1V369.2ZM417.0 369.2V340.15h1V369.2ZM418.0 369.2V337.30h1V369.2ZM419.0 369.2V342.23h1V369.2ZM420.0 369.2V347.72h1V369.2ZM421.0 369.2V344.36h1V369.2ZM422.0 369.2V337.30h1V369.2ZM423.0 369.2V346.71h1V369.2ZM424.0 369.2V348.98h1V369.2ZM425.0 369.2V349.78h1V369.2ZM426.0 369.2V346.60h1V369.2ZM427.0 369.2V348.84h1V369.2ZM428.0 369.2V353.51h1V369.2ZM429.0 369.2V352.37h1V369.2ZM430.0 369.2V350.30h1V369.2ZM431.0 369.2V354.10h1V369.2ZM432.0 369.2V356.33h1V369.2ZM433.0 369.2V354.53h1V369.2ZM434.0 369.2V354.00h1V369.2ZM435.0 369.2V357.00h1V369.2ZM436.0 369.2V358.10h1V369.2ZM437.0 369.2V358.63h1V369.2ZM438.0 369.2V361.20h1V369.2ZM439.0 369.2V360.47h1V369.2ZM440.0 369.2V361.22h1V369.2ZM441.0 369.2V363.05h1V369.2ZM442.0 369.2V364.99h1V369.2ZM443.0 369.2V364.88h1V369.2ZM444.0 369.2V364.43h1V369.2ZM445.0 369.2V360.60h1V369.2ZM446.0 369.2V364.56h1V369.2ZM447.0 369.2V366.25h1V369.2ZM448.0 369.2V365.30h1V369.2ZM449.0 369.2V365.49h1V369.2ZM450.0 369.2V366.35h1V369.2ZM451.0 369.2V366.19h1V369.2ZM452.0 369.2V367.16h1V369.2ZM453.0 369.2V368.00h1V369.2ZM454.0 369.2V368.11h1V369.2ZM455.0 369.2V368.35h1V369.2ZM456.0 369.2V368.35h1V369.2ZM457.0 369.2V368.52h1V369.2Z" fill="#080808"/>
<path d="M393.6 316.8H455.9M393.6 313.8V319.8M455.9 313.8V319.8" stroke="#111" stroke-width="1.1" fill="none"/>
<text x="456.3" y="311.4" font-family='"Liberation Sans", sans-serif' font-weight="bold" font-size="15" text-anchor="end" fill="#0c0c0c" stroke="#0c0c0c" stroke-width="0.25">57</text>
<text x="38.6" y="393" font-family='"Liberation Sans", sans-serif' font-weight="bold" font-size="15" letter-spacing="0.1" fill="#0c0c0c" stroke="#0c0c0c" stroke-width="0.3">AnnexinV</text>
<path d="M115.6 387.2L452 385.9" stroke="#111" stroke-width="1.15"/>
<path d="M460.8 385.8L450.2 382.3L450.2 389.5Z" fill="#111"/>
</svg>
</body></html>
